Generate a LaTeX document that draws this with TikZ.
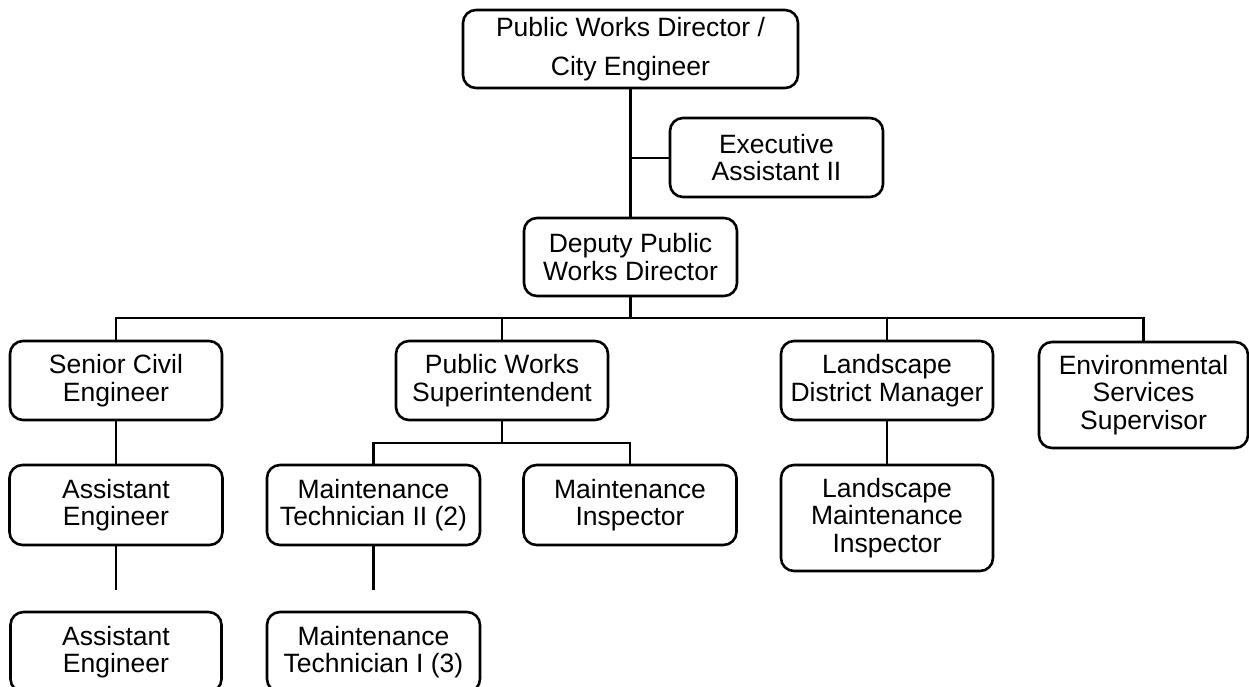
\documentclass[tikz,border=0pt]{standalone}
\usepackage{fontspec}
\setmainfont{Liberation Sans}
\begin{document}
\begin{tikzpicture}[x=1pt,y=-1pt,
  box/.style={draw, line width=2.6pt, rounded corners=13pt, align=center, inner sep=0pt,
    minimum width=#1, font=\fontsize{26.5}{27.5}\selectfont},
  box/.default=213pt,
  link/.style={line width=2.6pt}]
\useasboundingbox (0,0) rectangle (1249,687);
\clip (0,0) rectangle (1249,687);
% nodes
\node[box=335pt, minimum height=78pt, font=\fontsize{26.5}{39}\selectfont] (top) at (630.5,49) {Public Works Director /\\City Engineer};
\node[box, minimum height=79pt] (exec) at (776.5,157.5) {Executive\\Assistant II};
\node[box, minimum height=78pt] (dep) at (630.5,257) {Deputy Public\\Works Director};
\node[box=212pt, minimum height=79pt] (sce) at (116,380.5) {Senior Civil\\Engineer};
\node[box=212pt, minimum height=79pt] (pws) at (502,380.5) {Public Works\\Superintendent};
\node[box=212pt, minimum height=79pt] (ldm) at (887,380.5) {Landscape\\District Manager};
\node[box=209pt, minimum height=106pt] (env) at (1143.5,395) {Environmental\\Services\\Supervisor};
\node[box, minimum height=80pt] (ae1) at (116,505) {Assistant\\Engineer};
\node[box, minimum height=80pt] (mt2) at (373.5,505) {Maintenance\\Technician II (2)};
\node[box, minimum height=80pt] (mi) at (630,505) {Maintenance\\Inspector};
\node[box=212pt, minimum height=106pt] (lmi) at (887,518) {Landscape\\Maintenance\\Inspector};
\node[box=211pt, minimum height=80pt] (ae2) at (116,652) {Assistant\\Engineer};
\node[box, minimum height=80pt] (mt1) at (373.5,652) {Maintenance\\Technician I (3)};
% coordinates
\coordinate (bus) at (630.5,318);
\coordinate (sbus) at (502,443);
\coordinate (ex) at (630.5,158);
\coordinate (ae1end) at (116,590);
\coordinate (mt2end) at (373.5,590);
% connectors
\draw[link] (top.south) -- (dep.north);
\draw[link] (ex) -- (exec.west |- ex);
\draw[link] (dep.south) -- (bus);
\draw[link] (sce.north) -- (sce.north |- bus) -- (env.north |- bus) -- (env.north);
\draw[link] (pws.north) -- (pws.north |- bus);
\draw[link] (ldm.north) -- (ldm.north |- bus);
\draw[link] (sce.south) -- (ae1.north);
\draw[link] (pws.south) -- (sbus);
\draw[link] (mt2.north) -- (mt2.north |- sbus) -- (mi.north |- sbus) -- (mi.north);
\draw[link] (ldm.south) -- (lmi.north);
\draw[link] (ae1.south) -- (ae1end);
\draw[link] (mt2.south) -- (mt2end);
\end{tikzpicture}
\end{document}
